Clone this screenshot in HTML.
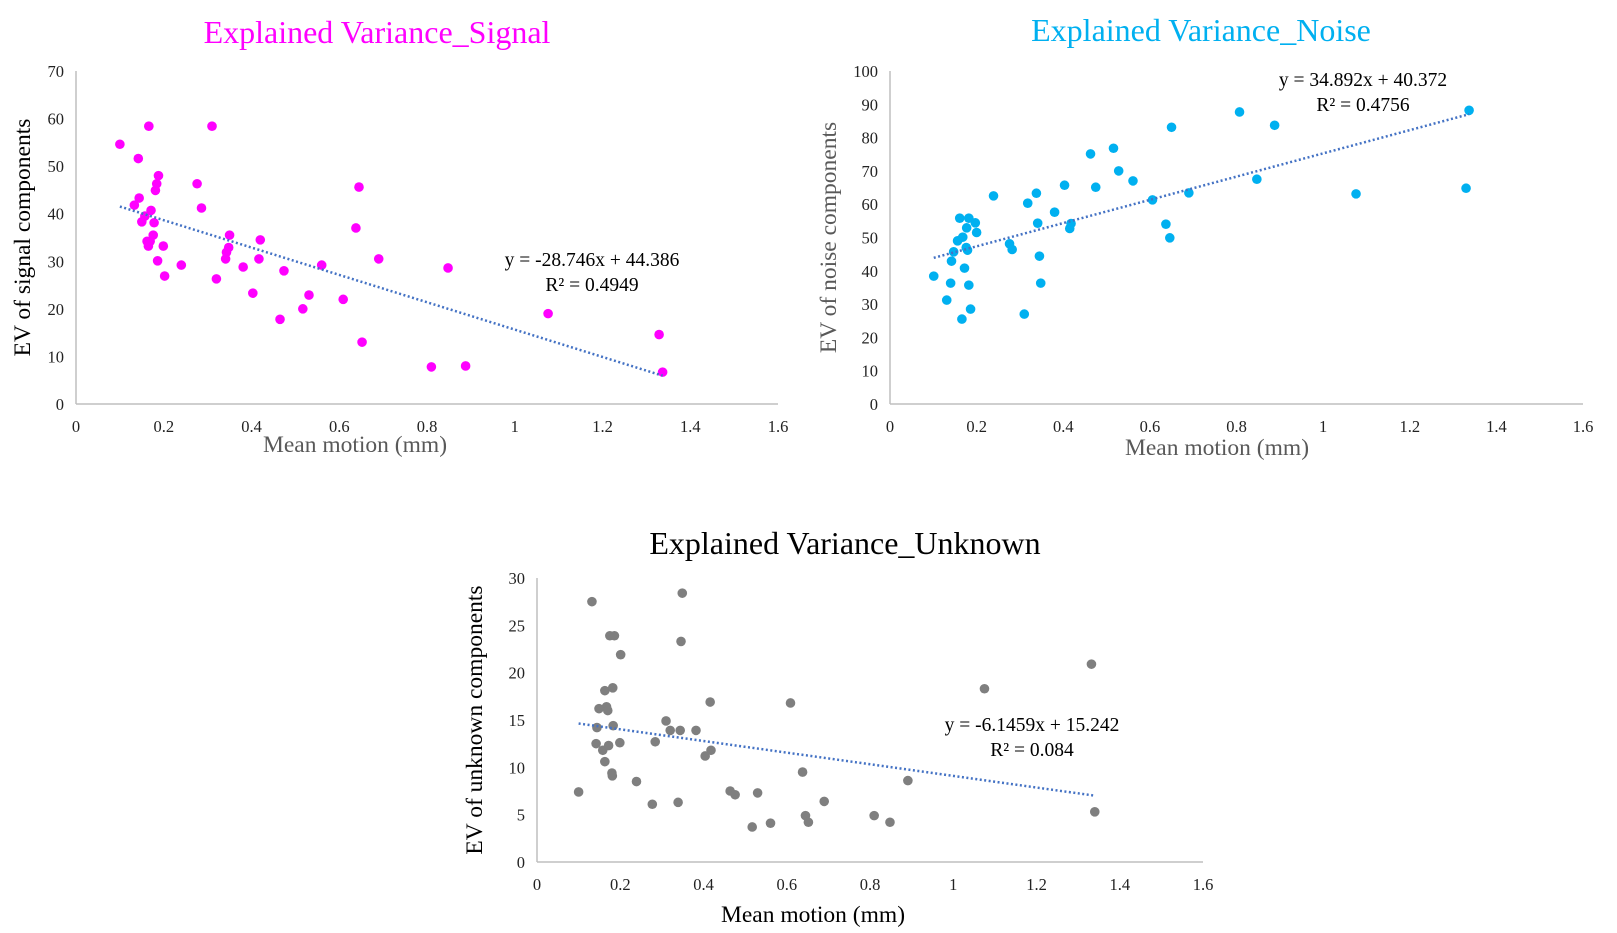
<!DOCTYPE html>
<html><head><meta charset="utf-8">
<style>
html,body{margin:0;padding:0;background:#fff;}
svg{display:block;font-family:"Liberation Serif",serif;}
</style></head>
<body>
<svg id="root" width="1617" height="933" viewBox="0 0 1617 933"></svg>
<script>
// ---- Signal chart data ----
const signalX = [0.10,0.166,0.31,0.142,0.188,0.184,0.276,0.181,0.645,0.144,0.133,0.286,0.171,0.157,0.15,0.178,0.638,0.35,0.176,0.42,0.162,0.169,0.165,0.199,0.348,0.343,0.341,0.417,0.69,0.186,0.24,0.56,0.381,0.848,0.474,0.202,0.32,0.403,0.531,0.609,0.517,1.076,0.465,0.652,1.329,0.81,0.888,1.337];
const signalY = [54.6,58.4,58.4,51.6,48,46.3,46.3,44.9,45.6,43.3,41.8,41.2,40.7,39.5,38.3,38.1,37,35.5,35.5,34.5,34.2,34.2,33.2,33.2,32.9,31.9,30.5,30.5,30.5,30.1,29.2,29.2,28.8,28.6,28,26.9,26.3,23.3,22.9,22,20,19,17.8,13,14.6,7.8,8,6.7];
const signalTrend = [-28.746, 44.386];
const signalYTicks = [0,10,20,30,40,50,60,70];
// ---- Noise chart data ----
const noiseX = [0.101,0.131,0.14,0.142,0.147,0.156,0.161,0.166,0.168,0.172,0.176,0.177,0.179,0.182,0.182,0.186,0.197,0.2,0.239,0.276,0.282,0.31,0.318,0.338,0.341,0.345,0.348,0.38,0.403,0.415,0.418,0.463,0.475,0.516,0.528,0.561,0.606,0.637,0.646,0.65,0.69,0.807,0.847,0.888,1.076,1.33,1.337];
const noiseY = [38.4,31.2,36.3,42.9,45.7,49,55.8,25.5,50.1,40.8,47,52.9,46.2,35.7,55.8,28.5,54.4,51.5,62.5,48.1,46.4,27,60.3,63.3,54.3,44.4,36.3,57.6,65.7,52.7,54.2,75.1,65.1,76.8,70,67,61.3,54,49.9,83.1,63.4,87.7,67.5,83.7,63.1,64.8,88.2];
const noiseTrend = [34.892, 40.372];
const noiseYTicks = [0,10,20,30,40,50,60,70,80,90,100];
// ---- Unknown chart data ----
const unknownX = [0.1,0.132,0.142,0.144,0.149,0.158,0.163,0.163,0.167,0.17,0.172,0.175,0.18,0.181,0.182,0.183,0.186,0.199,0.201,0.239,0.277,0.284,0.31,0.32,0.339,0.344,0.346,0.349,0.382,0.404,0.416,0.418,0.464,0.476,0.517,0.53,0.561,0.609,0.638,0.645,0.652,0.69,0.81,0.848,0.891,1.075,1.332,1.34];
const unknownY = [7.4,27.5,12.5,14.2,16.2,11.8,18.1,10.6,16.4,16,12.3,23.9,9.4,9.1,18.4,14.4,23.9,12.6,21.9,8.5,6.1,12.7,14.9,13.9,6.3,13.9,23.3,28.4,13.9,11.2,16.9,11.8,7.5,7.1,3.7,7.3,4.1,16.8,9.5,4.9,4.2,6.4,4.9,4.2,8.6,18.3,20.9,5.3];
const unknownTrend = [-6.1459, 15.242];
const unknownYTicks = [0,5,10,15,20,25,30];
const xTicks = [0,0.2,0.4,0.6,0.8,1,1.2,1.4,1.6];
const xTickLabels = ["0","0.2","0.4","0.6","0.8","1","1.2","1.4","1.6"];

const NS = "http://www.w3.org/2000/svg";
const root = document.getElementById('root');
function mk(tag, attrs, parent, text){
  const e = document.createElementNS(NS, tag);
  for (const k in attrs) e.setAttribute(k, attrs[k]);
  if (text !== undefined) e.textContent = text;
  (parent||root).appendChild(e);
  return e;
}

function chart(cfg){
  const g = mk('g', {});
  
  
  const sx = v => cfg.x0 + (v/1.6)*(cfg.x1-cfg.x0);
  const sy = v => cfg.y0 - (v/cfg.ymax)*(cfg.y0-cfg.y1);
  const t = mk('text', {x:cfg.tx, y:cfg.ty, 'text-anchor':'middle', 'font-size':32, fill:cfg.titleColor}, g, cfg.title);
  
  
  const ay = mk('line', {x1:cfg.x0, y1:cfg.y0, x2:cfg.x0, y2:cfg.y1, stroke:'#bfbfbf', 'stroke-width':1.5}, g);
  
  
  const ax = mk('line', {x1:cfg.x0, y1:cfg.y0, x2:cfg.x1, y2:cfg.y0, stroke:'#bfbfbf', 'stroke-width':1.5}, g);
  
  
  cfg.yTicks.forEach(v => {
    const e = mk('text', {x:cfg.x0-12, y:sy(v)+6, 'text-anchor':'end', 'font-size':16.5, fill:'#222'}, g, String(v));
    
    
  });
  xTicks.forEach((v,i) => {
    const e = mk('text', {x:sx(v), y:cfg.y0+28, 'text-anchor':'middle', 'font-size':16.5, fill:'#222'}, g, xTickLabels[i]);
    
    
  });
  const xt = mk('text', {x:cfg.xtx, y:cfg.xty, 'text-anchor':'middle', 'font-size':23.5, fill:cfg.xTitleColor}, g, 'Mean motion (mm)');
  
  
  const yc = (cfg.y0+cfg.y1)/2;
  const yt = mk('text', {x:cfg.ytx, y:yc, 'text-anchor':'middle', 'font-size':23.5, fill:cfg.yTitleColor, transform:`rotate(-90 ${cfg.ytx} ${yc})`}, g, cfg.yTitle);
  
  
  cfg.xs.forEach((xv,i) => {
    const c = mk('circle', {cx:sx(xv), cy:sy(cfg.ys[i]), r:4.8, fill:cfg.color}, g);
    
    
  });
  const xa = Math.min(...cfg.xs), xb = Math.max(...cfg.xs);
  const [m,b] = cfg.trend;
  const tl = mk('line', {x1:sx(xa), y1:sy(m*xa+b), x2:sx(xb), y2:sy(m*xb+b), stroke:'#4472C4', 'stroke-width':2.5, 'stroke-dasharray':'2 2.5'}, g);
  
  
  const sign = b >= 0 ? ' + ' : ' - ';
  const eq = mk('text', {x:cfg.ex, y:cfg.ey, 'text-anchor':'middle', 'font-size':19.5, fill:'#000'}, g, 'y = ' + m + 'x' + sign + Math.abs(b));
  
  
  const r2 = mk('text', {x:cfg.ex, y:cfg.ey+25, 'text-anchor':'middle', 'font-size':19.5, fill:'#000'}, g, 'R² = ' + cfg.r2);
  
  
}

chart({name:'signal-chart', title:'Explained Variance_Signal', titleColor:'#FF00FF', tx:377, ty:43,
  x0:76, x1:778, y0:404, y1:71, ymax:70, yTicks:signalYTicks,
  xs:signalX, ys:signalY, color:'#FF00FF', trend:signalTrend, r2:'0.4949',
  ex:592, ey:266, xtx:355, xty:452, xTitleColor:'#595959', ytx:30, yTitle:'EV of signal components', yTitleColor:'#000'});
chart({name:'noise-chart', title:'Explained Variance_Noise', titleColor:'#00B0F0', tx:1201, ty:41,
  x0:890, x1:1583, y0:404, y1:71, ymax:100, yTicks:noiseYTicks,
  xs:noiseX, ys:noiseY, color:'#00B0F0', trend:noiseTrend, r2:'0.4756',
  ex:1363, ey:86, xtx:1217, xty:455, xTitleColor:'#595959', ytx:836, yTitle:'EV of noise components', yTitleColor:'#595959'});
chart({name:'unknown-chart', title:'Explained Variance_Unknown', titleColor:'#000', tx:845, ty:554,
  x0:537, x1:1203, y0:862, y1:578, ymax:30, yTicks:unknownYTicks,
  xs:unknownX, ys:unknownY, color:'#7F7F7F', trend:unknownTrend, r2:'0.084',
  ex:1032, ey:731, xtx:813, xty:922, xTitleColor:'#000', ytx:482, yTitle:'EV of unknown components', yTitleColor:'#000'});
</script>
</body></html>
